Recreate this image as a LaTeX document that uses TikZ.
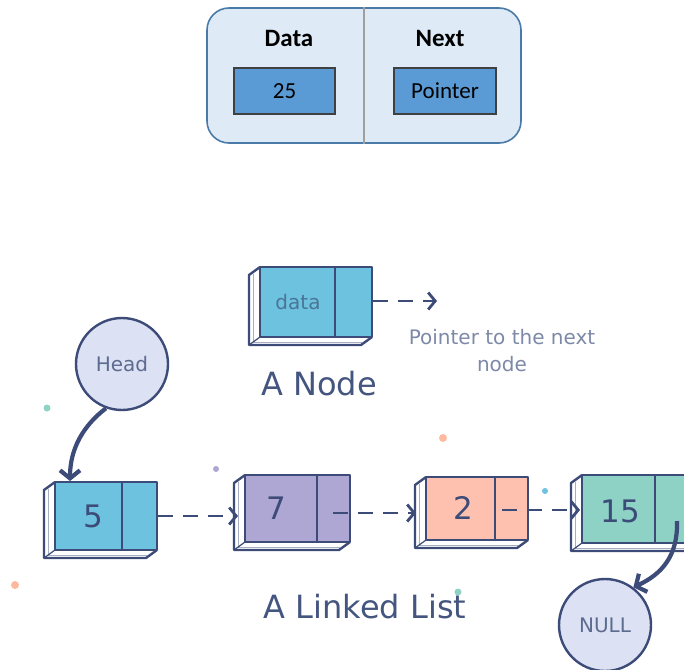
\documentclass[tikz,border=0pt]{standalone}
\usepackage{fontspec}
\setmainfont{DejaVu Sans}
\newfontfamily\carlito{Carlito}
\usetikzlibrary{arrows.meta,calc}
\definecolor{navy}{HTML}{3C4B78}
\definecolor{cyanfill}{HTML}{6DC2E0}
\definecolor{purplefill}{HTML}{AEA6D3}
\definecolor{salmonfill}{HTML}{FEC1B0}
\definecolor{tealfill}{HTML}{8ED1C5}
\definecolor{circfill}{HTML}{DCE1F3}
\definecolor{topfill}{HTML}{DEEBF7}
\definecolor{topborder}{HTML}{4A7AA8}
\definecolor{innerfill}{HTML}{5B9BD5}
\definecolor{innerborder}{HTML}{404040}
\definecolor{captxt}{HTML}{44557F}
\definecolor{lighttxt}{HTML}{7D89A8}
\definecolor{circtxt}{HTML}{5C6B8F}
\definecolor{datatxt}{HTML}{4A7596}
\tikzset{
  sk/.style={draw=navy, line width=2.4pt, line join=round},
  hatch/.style={draw=navy!45, line width=0.8pt},
  innerbox/.style={draw=innerborder, line width=1.6pt, fill=innerfill, inner sep=0pt,
    font=\carlito\fontsize{23}{26}\selectfont},
  toplbl/.style={font=\carlito\bfseries\fontsize{25}{28}\selectfont},
  numtxt/.style={font=\fontsize{31}{36}\selectfont, text=navy},
  capt/.style={font=\fontsize{32}{38}\selectfont, text=captxt},
  circnode/.style={circle, draw=navy, line width=2.4pt, fill=circfill, inner sep=0pt,
    minimum size=92pt, font=\fontsize{20}{24}\selectfont, text=circtxt},
  dasharrow/.style={draw=navy, line width=2.8pt, dash pattern=on 15pt off 10pt,
    -{Straight Barb[length=7pt,width=17pt,line width=2.8pt]}},
  bigarrow/.style={draw=navy, line width=4.2pt,
    -{Straight Barb[length=8pt,width=20pt,line width=4.2pt]}},
}
% name, x1, y1, x2, y2, divider x, fill, text
\newcommand\llbox[8]{%
  \fill[white] (#2,#3) -- (#2-11,#3+8) -- (#2-11,#5+8) -- (#4-11,#5+8) -- (#4,#5) -- cycle;
  \draw[hatch] (#2-7,#3+7) -- (#2-7,#5+5) -- (#4-10,#5+5);
  \draw[sk] (#2,#3) -- (#2-11,#3+8) -- (#2-11,#5+8) -- (#4-11,#5+8) -- (#4,#5);
  \draw[sk, line width=1.2pt] (#2,#5) -- (#2-11,#5+8);
  \node[sk, fill=#7, inner sep=0pt, minimum width={#6-#2}, minimum height={#5-#3}]
    (#1d) at ({(#2+#6)/2},{(#3+#5)/2}) {#8};
  \node[sk, fill=#7, inner sep=0pt, minimum width={#4-#6}, minimum height={#5-#3}]
    (#1p) at ({(#6+#4)/2},{(#3+#5)/2}) {};
}
\begin{document}
\begin{tikzpicture}[x=1pt,y=-1pt]
\useasboundingbox (0,0) rectangle (684,669);
\clip (0,0) rectangle (684,669);

% ---- top card ----
\node[draw=topborder, line width=1.6pt, fill=topfill, rounded corners=22pt,
  minimum width=314pt, minimum height=135pt, inner sep=0pt] (card) at (364,75.5) {};
\draw[draw=gray!75, line width=1.5pt] (card.north) -- (card.south);
\node[toplbl] (datalbl) at (289,38) {Data};
\node[toplbl] (nextlbl) at (440,38) {Next};
\node[innerbox, minimum width=101pt, minimum height=46pt] (val) at (284.5,91) {25};
\node[innerbox, minimum width=102pt, minimum height=46pt] (ptr) at (445,91) {Pointer};

% ---- dots ----
\fill[tealfill] (47,408) circle (3.5pt);
\fill[purplefill] (216,469) circle (3pt);
\fill[salmonfill!90!orange] (443,438) circle (4pt);
\fill[salmonfill!90!orange] (15,585) circle (4pt);
\fill[cyanfill] (545,491) circle (3pt);
\fill[tealfill] (458,592) circle (3.5pt);

% ---- A Node ----
\llbox{an}{260}{267}{372}{337}{335}{cyanfill}{}
\node[font=\fontsize{20}{24}\selectfont, text=datatxt] (antxt) at (298,302) {data};
\coordinate (antip) at (437,301);
\draw[dasharrow] (anp.east |- antip) -- (antip);
\node[font=\fontsize{20}{27}\selectfont, text=lighttxt, align=center] (ptrlbl) at (502,351)
  {Pointer to the next\\node};
\node[capt] (nodecap) at (319,384) {A Node};

% ---- linked list ----
\node[circnode] (head) at (122,364) {Head};
\node[circnode] (null) at (605,625) {NULL};

\llbox{n5}{55}{482}{157}{550}{122}{cyanfill}{}
\node[numtxt] (t5) at (93,516) {5};
\llbox{n7}{245}{475}{350}{542}{317}{purplefill}{}
\node[numtxt] (t7) at (276,508) {7};
\llbox{n2}{426}{477}{528}{540}{495}{salmonfill}{}
\node[numtxt] (t2) at (463,508) {2};
\llbox{n15}{582}{475}{705}{543}{655}{tealfill}{}
\node[numtxt] (t15) at (620,511) {15};

\coordinate (tip7) at (238,516);
\coordinate (tip2) at (416,513);
\coordinate (tip15) at (580,510);
\coordinate (s7) at (333,513);
\coordinate (s2) at (502,510);
\draw[dasharrow] (n5p.east |- tip7) -- (tip7);
\draw[dasharrow] (s7) -- (tip2);
\draw[dasharrow] (s2) -- (tip15);

\coordinate (h5) at (70,481);
\draw[bigarrow] (head.250) .. controls (84,425) and (70,448) .. (h5);
\coordinate (s15) at (677,521);
\draw[bigarrow] (s15) .. controls (678,556) and (662,574) .. (null.53);

\node[capt] (listcap) at (365,607) {A Linked List};
\end{tikzpicture}
\end{document}
